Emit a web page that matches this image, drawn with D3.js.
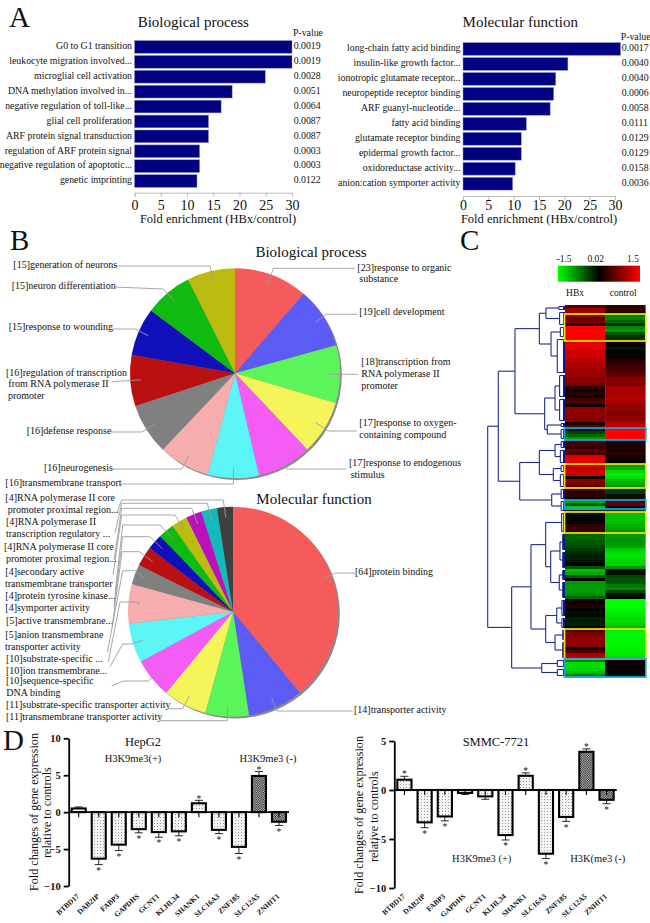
<!DOCTYPE html>
<html><head><meta charset="utf-8">
<script src="https://cdn.jsdelivr.net/npm/d3@7"></script>
<style>html,body{margin:0;padding:0;background:#fff}svg{display:block}text{font-family:"Liberation Serif",serif;fill:#111}</style>
</head><body><svg id="c" width="650" height="923"></svg>
<script>
// ---------- data ----------
const bpTerms=["G0 to G1 transition","leukocyte migration involved...","microglial cell activation","DNA methylation involved in...","negative regulation of toll-like...","glial cell proliferation","ARF protein signal transduction","regulation of ARF protein signal","negative regulation of apoptotic...","genetic imprinting"];
const bpFold=[30,30,24.9,18.6,16.5,14.1,14.1,12.4,12.4,11.9];
const bpP=["0.0019","0.0019","0.0028","0.0051","0.0064","0.0087","0.0087","0.0003","0.0003","0.0122"];
const mfTerms=["long-chain fatty acid binding","insulin-like growth factor...","ionotropic glutamate receptor...","neuropeptide receptor binding","ARF guanyl-nucleotide...","fatty acid binding","glutamate receptor binding","epidermal growth factor...","oxidoreductase activity...","anion:cation symporter activity"];
const mfFold=[31.1,20.7,18.3,17.9,17.2,12.5,11.5,11.5,10.3,9.8];
const mfP=["0.0017","0.0040","0.0040","0.0006","0.0058","0.0111","0.0129","0.0129","0.0158","0.0036"];
const foldTicks=[0,5,10,15,20,25,30];

const pieColors=["#f55b5b","#5b5bf5","#5bf55b","#f5f55b","#f55bf5","#5bf5f5","#f5adad","#808080","#bb1010","#1010bb","#10bb10","#bbbb10","#bb10bb","#10bbbb","#404040"];
const bpCounts=[23,19,18,17,17,16,16,16,16,15,15,15];
const bpNames=[["response to organic","substance"],["cell development"],["transcription from","RNA polymerase II","promoter"],["response to oxygen-","containing compound"],["response to endogenous","stimulus"],["transmembrane transport"],["neurogenesis"],["defense response"],["regulation of transcription","from RNA polymerase II","promoter"],["response to wounding"],["neuron differentiation"],["generation of neurons"]];
const mfCounts=[64,14,11,11,10,10,10,5,5,4,4,4,4,4,4];
const mfNames=[["protein binding"],["transporter activity"],["transmembrane transporter activity"],["substrate-specific transporter activity"],["sequence-specific","DNA binding"],["ion transmembrane..."],["substrate-specific ..."],["active transmembrane..."],["anion transmembrane","transporter activity"],["symporter activity"],["protein tyrosine kinase..."],["secondary active","transmembrane transporter"],["RNA polymerase II core","promoter proximal region..."],["RNA polymerase II","transcription regulatory ..."],["RNA polymerase II core","promoter proximal region..."]];

const hbxValues=[.5,.9,.9,.8,.6,.7,.2,1.5,1.5,1.5,1.5,1.5,1.3,1.4,1.3,1.2,1.25,1.2,1.1,1,1,.95,.9,.95,.7,.8,.7,.3,.1,.25,.05,.4,.5,.1,.8,.85,.85,.8,.8,.1,.5,-.1,-.4,-.6,-.9,.5,.4,.3,.6,.45,1.3,1.35,1.3,1.2,1.1,1.2,1.2,.1,.8,.7,.6,.25,.2,.3,.05,-1,-.5,-1.2,-.2,0,-.05,0,-.05,.3,.35,.25,-.6,-.6,-.55,-.5,-.45,-.35,-.25,-.2,-.2,-.1,0,-.5,-1.1,-1,-.5,0,-.9,-.9,-.95,-.9,-.85,-.6,0,.1,.2,0,-.1,-.05,-.2,-.15,-.2,0,.5,.7,.8,.85,.85,.8,.05,.5,1,1.1,-.8,-1.3,-1.3,-1.25,-1.1,-.8];
const controlValues=[.3,.3,.1,-.7,-.8,-.6,-.2,-.8,-.9,-.5,-.3,-.3,.1,.05,-.15,0,-.05,.1,.2,.3,.4,.4,.5,.6,.8,.8,.7,1,1,1,1.05,1.05,1,.85,.9,.8,.75,.8,.9,1.1,1.1,1.5,1.5,1.5,1.5,.15,.1,.2,.1,.3,.1,.05,0,-.9,-1,-1.3,-1.4,-1.3,-1.1,-1,-.9,-.3,-.35,-.1,-.1,.5,.6,0,-.3,-1.1,-1.1,-1.15,-1.1,-1.05,-.95,-.9,-.9,-.9,-.85,-.9,-.95,-1.2,-1.3,-1.35,-1.3,-1.25,-1.2,-.9,0,-.1,-.4,-.5,-.5,-.7,-.8,-.4,-.1,-.05,-1.5,-1.5,-1.5,-1.45,-1.4,-1.35,-1.3,-1.3,-1.2,-1.1,-1.4,-1.45,-1.45,-1.45,-1.45,-1.45,-1.4,-1.4,-1.35,-1.3,0,.05,0,.1,.05,-.1];
const heatSamples=["HBx","control"];
const heatTicks=[[-1.5,"-1.5"],[.02,"0.02"],[1.5,"1.5"]];
// dendrogram: [distance, childA, childB]; a leaf group of rows is [distance, firstRow, lastRow]
const c=(d,a,b)=>({d,rows:[a,b]}), m=(d,a,b)=>({d,kids:[a,b]});
const dendrogram=m(1,
  m(.863,
    m(.647,
      m(.332,m(.246,c(.08,0,1),c(.07,2,6)),m(.181,c(.06,7,10),c(.1,11,22))),
      m(.263,m(.129,c(.07,23,30),c(.07,31,38)),m(.229,c(.05,39,40),c(.05,41,44)))),
    m(.586,
      m(.332,m(.129,c(.05,45,47),c(.06,48,52)),m(.151,c(.05,53,55),c(.06,56,60))),
      m(.172,c(.05,61,64),c(.05,65,68)))),
  m(.69,
    m(.44,
      m(.25,c(.043,69,75),m(.185,m(.065,c(.03,76,81),c(.03,82,87)),m(.074,c(.03,88,91),c(.03,92,97)))),
      m(.25,m(.107,c(.04,98,103),c(.04,104,107)),m(.129,c(.03,108,111),c(.03,112,117)))),
    m(.301,c(.1,118,120),c(.1,121,123))));
// highlighted clusters: first row, last row
const yellowBoxes=[[3,11],[53,60],[69,75],[108,117]];
const blueBoxes=[[41,44],[65,67],[118,123]];

const genes=["BTBD17","DAB2IP","FABP3","GAPDHS","GCNT1","KLHL34","SHANK1","SLC16A3","ZNF185","SLC12A5","ZNHIT1"];
const hepValues=[.5,-6.3,-4.4,-2.3,-2.7,-2.6,1.2,-2.4,-4.7,4.9,-1.3];
const hepErrors=[.2,.8,.8,.5,.7,.6,.4,.5,.9,.6,.5];
const hepStars=[0,1,1,1,1,1,1,1,1,1,1];
const smmcValues=[1.05,-3.3,-2.7,-.3,-.65,-4.6,1.45,-6.5,-2.75,3.9,-1];
const smmcErrors=[.35,.55,.45,.15,.3,.5,.3,.5,.45,.3,.4];
const smmcStars=[1,1,1,0,0,1,1,1,1,1,1];
const hepTicks=[10,5,0,-5,-10];
const smmcTicks=[5,0,-5,-10];

// ---------- helpers ----------
const svg=d3.select("#c");
const T=(x,y,s,size,o={})=>svg.append("text").attr("x",x).attr("y",y).attr("font-size",size)
  .attr("text-anchor",o.anchor||"start").attr("dominant-baseline","middle").attr("font-weight",o.bold?"bold":null).text(s);
const defs=svg.append("defs");
const light=defs.append("pattern").attr("id","light").attr("width",3).attr("height",3).attr("patternUnits","userSpaceOnUse");
light.append("rect").attr("width",3).attr("height",3).attr("fill","#f4f4f4");
light.append("rect").attr("x",1).attr("y",1).attr("width",1).attr("height",1).attr("fill","#9a9a9a");
const heavy=defs.append("pattern").attr("id","heavy").attr("width",2.4).attr("height",2.4).attr("patternUnits","userSpaceOnUse");
heavy.append("rect").attr("width",2.4).attr("height",2.4).attr("fill","#111");
heavy.append("rect").attr("width",1.2).attr("height",1.2).attr("fill","#ddd");
heavy.append("rect").attr("x",1.2).attr("y",1.2).attr("width",1.2).attr("height",1.2).attr("fill","#ddd");

// panel letters
[["A",9,20],["B",10,243],["C",460,243],["D",3,743]].forEach(([s,x,y])=>T(x,y,s,29));

// ---------- panel A ----------
function enrich(terms,vals,ps,o){
  const x=d3.scaleLinear().domain([0,30]).range(o.x);
  const y=d3.scaleBand().domain(terms).range(o.y).paddingInner(.148).paddingOuter(.074);
  svg.append("g").selectAll("rect").data(terms).join("rect")
    .attr("x",x(0)).attr("y",d=>y(d)).attr("height",y.bandwidth())
    .attr("width",(d,i)=>x(vals[i])-x(0)).attr("fill","#000080").attr("stroke","#8f92c4").attr("stroke-width",.5);
  terms.forEach((t,i)=>{
    T(x(0)-2.5,y(t)+y.bandwidth()/2,t,o.fs,{anchor:"end"});
    T(o.px,y(t)+y.bandwidth()/2,ps[i],9.8);
  });
  T(o.pvx,o.pvy,"P-value",9.8);
  const ax=svg.append("g").attr("transform",`translate(0,${o.ay})`).call(d3.axisBottom(x).tickValues(foldTicks).tickFormat(d3.format("d")).tickSize(4));
  ax.selectAll("path,line").attr("stroke","#bbb");
  ax.selectAll("text").attr("font-size",14).attr("font-family","Liberation Serif").attr("fill","#111").attr("y",o.ty);
  T(o.tx,23.5,o.title,15,{anchor:"middle"});
  T(o.lx,220.5,"Fold enrichment (HBx/control)",12.5,{anchor:"middle"});
}
enrich(bpTerms,bpFold,bpP,{x:[134.5,292],y:[39.5,188.5],px:293.7,pvx:293,pvy:34,ay:192.7,ty:7.5,tx:193.3,lx:218,title:"Biological process",fs:9.8});
enrich(mfTerms,mfFold,mfP,{x:[463,615],y:[41.5,191.2],px:621.7,pvx:620.7,pvy:37.3,ay:196,ty:4,tx:520.3,lx:539,title:"Molecular function",fs:9.8});

// ---------- panel B ----------
function pie(counts,names,o){
  const arcs=d3.pie().sort(null).value(d=>d)(counts);
  const R=105;
  const g=svg.append("g").attr("transform",`translate(${o.cx},${o.cy})`);
  g.append("circle").attr("cx",1.8).attr("cy",1.8).attr("r",R).attr("fill","#8a8a8a");
  g.selectAll("path").data(arcs).join("path").attr("d",d3.arc().innerRadius(0).outerRadius(R)).attr("fill",(d,i)=>pieColors[i]);
  const inner=d3.arc().innerRadius(R*.9).outerRadius(R*.9);
  arcs.forEach((a,i)=>{
    const [px,py]=inner.centroid(a);
    const pts=o.leaders[i].concat([[px+o.cx,py+o.cy]]);
    svg.append("path").attr("d",d3.line()(pts)).attr("fill","none").attr("stroke","#9c9c9c").attr("stroke-width",.9);
    names[i].forEach((s,j)=>{
      const [tx,ty]=o.labels[i][j];
      T(tx,ty,(j===0?`[${counts[i]}]`:"")+s,10);
    });
  });
  T(o.tx,o.ty,o.title,15,{anchor:"middle"});
}
pie(bpCounts,bpNames,{cx:235,cy:373.3,tx:311,ty:254,title:"Biological process",
 labels:[[[357.3,268.3],[359.3,280]],[[359.3,313]],[[361.3,362.7],[361.3,374.7],[361.3,386.7]],[[359.3,424],[359.3,436]],[[349,464],[350.7,476]],[[5.3,484]],[[44,468.3]],[[26.7,431.7]],[[6,373.3],[8.3,385],[8,396.7]],[[8.7,327.3]],[[11.7,286.7]],[[13.3,266]]],
 leaders:[[[355,268.3],[273.3,268.3]],[[357.3,314.3],[326.7,314.3]],[[358,374.3],[330,374.3]],[[356.7,431],[328,431]],[[346.7,469],[286.7,469]],[[120,484],[233.3,484]],[[112.7,469],[181.7,469]],[[111,432],[141.7,432]],[[111.7,381.7]],[[112.7,329],[135,329]],[[114.3,287],[163.3,289]],[[116,266],[210,266]]]});
pie(mfCounts,mfNames,{cx:233,cy:611.7,tx:314,ty:500.7,title:"Molecular function",
 labels:[[[355,572.3]],[[354,710.3]],[[6,717.7]],[[6,706]],[[6,682],[6.3,693.7]],[[6,671.7]],[[6,660]],[[6,621.3]],[[5.3,636],[5,647.7]],[[5.3,608.3]],[[5.3,596.3]],[[5.3,572.3],[5,584.3]],[[4,547.7],[6,559.3]],[[6,522.7],[6,535]],[[5.3,499],[7.7,510.7]]],
 leaders:[[[355,573],[335,573]],[[352.7,711],[276.7,711]],[[160,720.7],[227.3,720.7]],[[168,708.7],[182.7,708.7]],[[111.7,686],[123.3,681],[148.3,681]],[[110,666.7],[122.7,644],[131.7,644]],[[108.3,661.7],[120,602],[138.3,602]],[[107.5,652],[122.7,570.7],[135,570.7]],[[112,628],[122,551.7],[139.3,551.7]],[[114,607],[122.7,536.7],[150,536.7]],[[115,594],[122.7,525],[160,525]],[[113,575],[121.7,515],[175,515]],[[114,560],[121.7,508.3],[191.7,508.3]],[[115,533],[121.7,503.3],[207.3,503.3]],[[117,513],[121.7,500],[223.3,500]]]});

// ---------- panel C ----------
const heatColor=d3.scaleLinear().domain([-1.5,0,1.5]).range(["#00ff00","#000000","#ff0000"]);
const rowY=d3.scaleBand().domain(d3.range(hbxValues.length)).range([305,677]);
const colX=d3.scaleBand().domain(heatSamples).range([565,645.3]);
[hbxValues,controlValues].forEach((vals,k)=>{
  svg.append("g").selectAll("rect").data(vals).join("rect")
    .attr("x",colX(heatSamples[k])).attr("width",colX.bandwidth()+.3)
    .attr("y",(d,i)=>rowY(i)).attr("height",rowY.bandwidth()+.2).attr("fill",d=>heatColor(d));
  T(colX(heatSamples[k])+colX.bandwidth()/2+(k?-2:-10),294,heatSamples[k],9.5,{anchor:"middle"});
});
const distX=d3.scaleLinear().domain([0,1]).range([565,487.7]);
const dg=svg.append("g").attr("fill","none").attr("stroke","#1f2a8f").attr("stroke-width",1.1);
const seg=(x1,y1,x2,y2)=>dg.append("line").attr("x1",x1).attr("x2",x2).attr("y1",y1).attr("y2",y2);
function drawTree(n){
  const x=distX(n.d);
  if(n.rows){
    const [a,b]=n.rows, ya=rowY(a)+1.5, yb=rowY(b)+1.5;
    seg(x,ya,distX(0),ya); seg(x,yb,distX(0),yb);
    seg(x,ya,x,yb);
    seg(distX(0)-1,ya,distX(0)-1,yb).attr("stroke-width",2).attr("stroke","#0b1a8c");
    return (ya+yb)/2;
  }
  const ys=n.kids.map(k=>({y:drawTree(k),x:distX(k.d)}));
  ys.forEach(k=>seg(x,k.y,k.x,k.y));
  seg(x,ys[0].y,x,ys[1].y);
  return (ys[0].y+ys[1].y)/2;
}
drawTree(dendrogram);
[[yellowBoxes,"#f2e600"],[blueBoxes,"#19a5e8"]].forEach(([boxes,col])=>{
  svg.append("g").selectAll("rect").data(boxes).join("rect")
    .attr("x",564.5).attr("width",81.3).attr("y",d=>rowY(d[0])).attr("height",d=>rowY(d[1])+rowY.bandwidth()-rowY(d[0]))
    .attr("fill","none").attr("stroke",col).attr("stroke-width",1.7);
});
const gradX=d3.scaleLinear().domain([-1.5,1.5]).range([558,640]);
const grad=defs.append("linearGradient").attr("id","cb");
[-1.5,0,1.5].forEach(v=>grad.append("stop").attr("offset",(v+1.5)/3).attr("stop-color",heatColor(v)));
svg.append("rect").attr("x",gradX(-1.5)).attr("y",265.7).attr("width",gradX(1.5)-gradX(-1.5)).attr("height",16).attr("fill","url(#cb)");
T(564,260,heatTicks[0][1],9.5,{anchor:"middle"});
T(595.7,260,heatTicks[1][1],9.5,{anchor:"middle"});
T(633,260,heatTicks[2][1],9.5,{anchor:"middle"});

// ---------- panel D ----------
function barPanel(vals,errs,stars,o){
  const x=d3.scaleBand().domain(genes).range(o.x).paddingInner(.3).paddingOuter(.15);
  const y=d3.scaleLinear().domain(o.dom).range(o.y);
  const g=svg.append("g");
  genes.forEach((n,i)=>{
    const cx=x(n)+x.bandwidth()/2, v=vals[i], e=v>=0?v+errs[i]:v-errs[i];
    g.append("line").attr("x1",cx).attr("x2",cx).attr("y1",y(v)).attr("y2",y(e)).attr("stroke","#111").attr("stroke-width",.9);
    g.append("line").attr("x1",cx-4).attr("x2",cx+4).attr("y1",y(e)).attr("y2",y(e)).attr("stroke","#111").attr("stroke-width",.9);
    g.append("rect").attr("x",x(n)).attr("width",x.bandwidth()).attr("y",y(Math.max(v,0))).attr("height",Math.abs(y(v)-y(0)))
      .attr("fill",i>=9?"url(#heavy)":"url(#light)").attr("stroke","#000").attr("stroke-width",2.1);
    if(stars[i]) T(cx,y(e)+(v>=0?-3.5:4.5)+2.5,"*",9.5,{anchor:"middle"});
    svg.append("text").attr("font-size",7.4).attr("font-weight","bold").attr("text-anchor","end")
      .attr("transform",`translate(${cx+1},${o.ly}) rotate(-42)`).text(n);
  });
  const xa=svg.append("g").attr("transform",`translate(0,${y(0)})`).call(d3.axisBottom(x).tickSize(5).tickFormat(""));
  xa.select("path").attr("stroke-width",1.8).attr("stroke","#000").attr("d",`M${o.x[0]},0H${o.x[1]}`);
  xa.selectAll("line").attr("stroke","#000").attr("stroke-width",1.1);
  const ya=svg.append("g").attr("transform",`translate(${o.x[0]},0)`).call(d3.axisLeft(y).tickValues(o.ticks).tickSize(5).tickSizeOuter(0));
  ya.select("path").attr("stroke-width",1.8).attr("stroke","#000");
  ya.selectAll("line").attr("stroke","#000").attr("stroke-width",1.8);
  ya.selectAll("text").attr("font-size",10.5).attr("font-weight","bold").attr("font-family","Liberation Sans").attr("fill","#111");
  o.ylab.forEach(([s,lx,ly])=>svg.append("text").attr("font-size",12.1).attr("text-anchor","middle").attr("dominant-baseline","middle")
    .attr("transform",`translate(${lx},${ly}) rotate(-90)`).text(s));
  o.notes.forEach(([s,nx,ny,fs])=>T(nx,ny,s,fs,{anchor:"middle"}));
}
barPanel(hepValues,hepErrors,hepStars,{x:[68.7,289],dom:[-10,10],y:[886,738.3],ticks:hepTicks,ly:897,
 ylab:[["Fold changes of gene expression",35,812],["relative to controls",48,812.6]],
 notes:[["HepG2",143,743,12.5],["H3K9me3(+)",133,760,10.5],["H3K9me3 (-)",268,760,10.5]]});
barPanel(smmcValues,smmcErrors,smmcStars,{x:[394.3,616.7],dom:[-10,5],y:[888,741],ticks:smmcTicks,ly:897,
 ylab:[["Fold changes of gene expression",360.7,815],["relative to controls",375,816.7]],
 notes:[["SMMC-7721",496,743,12.5],["H3K9me3 (+)",481.7,859.3,10.5],["H3K(me3 (-)",597.7,859.3,10.5]]});
</script></body></html>
